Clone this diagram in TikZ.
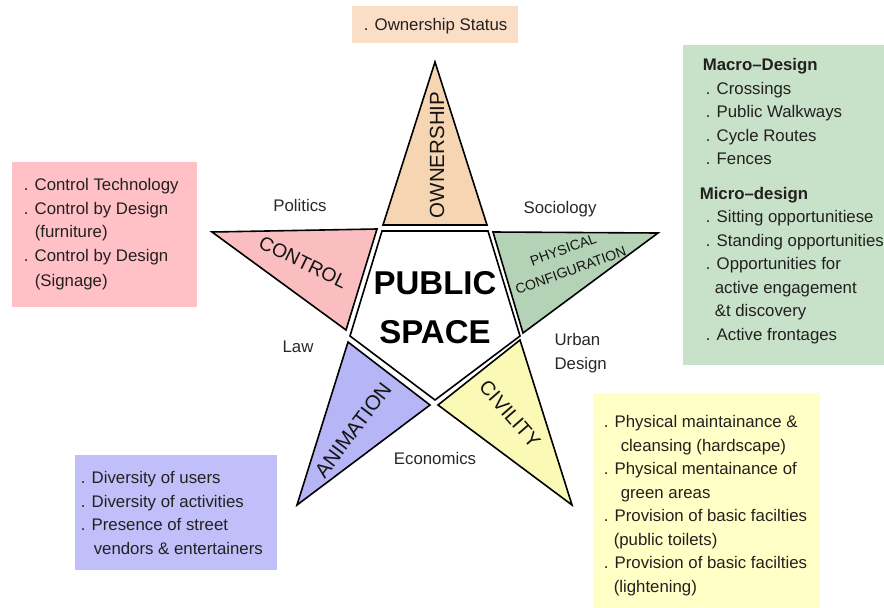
\documentclass[tikz,border=0pt]{standalone}
\usepackage{fontspec}
\setmainfont{Liberation Sans}

\tikzset{every picture/.style={line width=1.6pt}}
\tikzset{
  itemtext/.style={anchor=north west, inner sep=0pt, align=left, color={rgb, 255:red, 35; green, 32; blue, 32 }, font=\fontsize{16.8}{23.5}\selectfont},
  fieldtext/.style={inner sep=0.75pt, color={rgb, 255:red, 40; green, 40; blue, 40 }, font=\fontsize{16.8}{24}\selectfont},
  pointtext/.style={inner sep=0pt, color={rgb, 255:red, 20; green, 20; blue, 20 }},
}

\begin{document}
\begin{tikzpicture}[x=1pt,y=1pt,yscale=-1,xscale=1]
\useasboundingbox (0,0) rectangle (884,608);

%Shape: Rectangle (ownership list)
\draw  [draw opacity=0][fill={rgb, 255:red, 251; green, 222; blue, 198 }  ,fill opacity=1 ] (352,6) -- (518,6) -- (518,43) -- (352,43) -- cycle ;
%Shape: Rectangle (control list)
\draw  [draw opacity=0][fill={rgb, 255:red, 255; green, 193; blue, 198 }  ,fill opacity=1 ] (12,162) -- (197,162) -- (197,307) -- (12,307) -- cycle ;
%Shape: Rectangle (configuration list)
\draw  [draw opacity=0][fill={rgb, 255:red, 199; green, 226; blue, 200 }  ,fill opacity=1 ] (683,45) -- (884,45) -- (884,365) -- (683,365) -- cycle ;
%Shape: Rectangle (animation list)
\draw  [draw opacity=0][fill={rgb, 255:red, 192; green, 191; blue, 250 }  ,fill opacity=1 ] (75,455) -- (277,455) -- (277,570) -- (75,570) -- cycle ;
%Shape: Rectangle (civility list)
\draw  [draw opacity=0][fill={rgb, 255:red, 255; green, 255; blue, 198 }  ,fill opacity=1 ] (593,393) -- (820,393) -- (820,608) -- (593,608) -- cycle ;

%Shape: Triangle (top point)
\draw  [fill={rgb, 255:red, 246; green, 214; blue, 178 }  ,fill opacity=1 ] (435,62) -- (487,225) -- (383,225) -- cycle ;
%Shape: Triangle (left point)
\draw  [fill={rgb, 255:red, 250; green, 190; blue, 192 }  ,fill opacity=1 ] (212,232) -- (377,229) -- (346,330) -- cycle ;
%Shape: Triangle (right point)
\draw  [fill={rgb, 255:red, 180; green, 211; blue, 182 }  ,fill opacity=1 ] (493,232) -- (658,233) -- (523,333) -- cycle ;
%Shape: Triangle (lower left point)
\draw  [fill={rgb, 255:red, 182; green, 181; blue, 246 }  ,fill opacity=1 ] (348,342) -- (430,405) -- (297,505) -- cycle ;
%Shape: Triangle (lower right point)
\draw  [fill={rgb, 255:red, 250; green, 250; blue, 182 }  ,fill opacity=1 ] (520,340) -- (572,505) -- (438,405) -- cycle ;
%Shape: Pentagon
\draw  [fill={rgb, 255:red, 255; green, 255; blue, 255 }  ,fill opacity=1 ] (382,231) -- (488,231) -- (520,336) -- (435,400) -- (350,336) -- cycle ;

% Text Node
\draw (435,307.5) node (core) [pointtext,color=black,align=center,font=\bfseries\fontsize{33}{49}\selectfont]  {PUBLIC\\SPACE};
% Text Node
\draw (437,155) node (own) [pointtext,rotate=90,font=\fontsize{20.5}{24}\selectfont]  {OWNERSHIP};
% Text Node
\draw (303,262) node (ctrl) [pointtext,rotate=-26,font=\fontsize{19.4}{24}\selectfont]  {CONTROL};
% Text Node
\draw (567,260) node (config) [pointtext,rotate=20,align=center,font=\fontsize{14}{22}\selectfont]  {PHYSICAL\\CONFIGURATION};
% Text Node
\draw (353,430) node (anim) [pointtext,rotate=53,font=\fontsize{20.5}{24}\selectfont]  {ANIMATION};
% Text Node
\draw (510,414) node (civ) [pointtext,rotate=-49,font=\fontsize{20}{24}\selectfont]  {CIVILITY};

% Text Node
\draw (300,205) node (politics) [fieldtext]  {Politics};
% Text Node
\draw (560,209) node (sociology) [fieldtext]  {Sociology};
% Text Node
\draw (298,347) node (law) [fieldtext]  {Law};
% Text Node
\draw (553,353) node (urban) [fieldtext,anchor=west,align=left]  {Urban\\Design};
% Text Node
\draw (435,458) node (economics) [fieldtext]  {Economics};

% Text Node
\draw (363,18) node (ownlist) [itemtext]  {. Ownership Status};
% Text Node
\draw (23,178) node (ctrllist) [itemtext]  {. Control Technology\\. Control by Design\\\hspace*{11pt}(furniture)\\. Control by Design\\[2pt]\hspace*{11pt}(Signage)};
% Text Node
\draw (705,58) node (configlist) [itemtext]  {\hspace*{-3pt}\textbf{Macro{\textendash}Design}\\. Crossings\\. Public Walkways\\. Cycle Routes\\. Fences\\[11pt]\hspace*{-6pt}\textbf{Micro{\textendash}design}\\. Sitting opportunitiese\\. Standing opportunities\\. Opportunities for\\\hspace*{9pt}active engagement\\\hspace*{9pt}\&t discovery\\. Active frontages};
% Text Node
\draw (80,471) node (animlist) [itemtext]  {. Diversity of users\\. Diversity of activities\\. Presence of street\\\hspace*{13pt}vendors \& entertainers};
% Text Node
\draw (603,415) node (civlist) [itemtext]  {. Physical maintainance \&\\\hspace*{17pt}cleansing (hardscape)\\. Physical mentainance of\\\hspace*{17pt}green areas\\. Provision of basic facilties\\\hspace*{10pt}(public toilets)\\. Provision of basic facilties\\\hspace*{10pt}(lightening)};

\end{tikzpicture}
\end{document}
